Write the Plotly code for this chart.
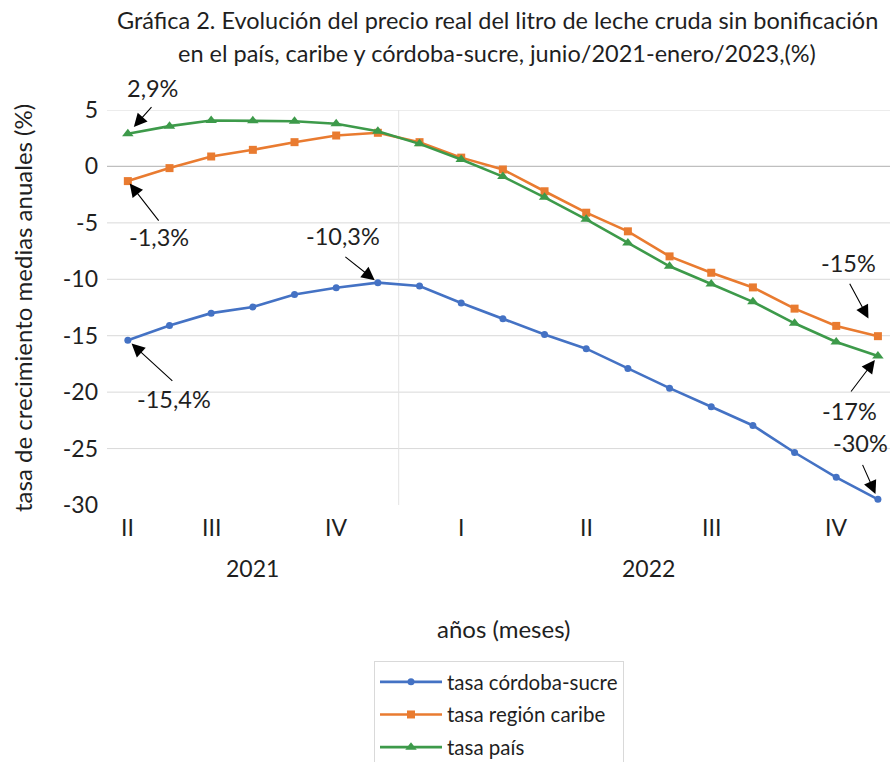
import plotly.graph_objects as go

# ---- data ----
categories = ["jun-21", "jul-21", "ago-21", "sep-21", "oct-21", "nov-21", "dic-21",
              "ene-22", "feb-22", "mar-22", "abr-22", "may-22", "jun-22", "jul-22",
              "ago-22", "sep-22", "oct-22", "nov-22", "dic-22"]
quarters = ["II", "III", "III", "III", "IV", "IV", "IV",
            "I", "I", "I", "II", "II", "II", "III", "III", "III", "IV", "IV", "IV"]
years = ["2021"] * 7 + ["2022"] * 12

cordoba_sucre = [-15.4, -14.1, -13.0, -12.45, -11.35, -10.75, -10.3, -10.6, -12.1, -13.5,
                 -14.9, -16.15, -17.9, -19.65, -21.3, -22.95, -25.35, -27.55, -29.5]
region_caribe = [-1.3, -0.15, 0.88, 1.47, 2.15, 2.74, 2.98, 2.15, 0.78, -0.27,
                 -2.2, -4.1, -5.75, -7.97, -9.42, -10.72, -12.6, -14.13, -15.04]
pais = [2.9, 3.57, 4.07, 4.04, 4.0, 3.78, 3.12, 2.0, 0.62, -0.9,
        -2.74, -4.69, -6.78, -8.85, -10.42, -12.0, -13.9, -15.55, -16.8]

y_ticks = [5, 0, -5, -10, -15, -20, -25, -30]
grid_vals = [5, -5, -10, -15, -20, -25]

series_names = ["tasa córdoba-sucre", "tasa región caribe", "tasa país"]

# callout labels: (series index, point index, text, tail dx, tail dy, text dx, text dy, standoff)
callouts = [
    (2, 0, "2,9%", 25, -28, 25, -46, 9),
    (1, 0, "-1,3%", 32, 41, 31, 56, 3),
    (0, 6, "-10,3%", -34, -27, -35, -47, 4),
    (0, 0, "-15,4%", 46, 42, 46, 59, 5),
    (1, 18, "-15%", -29, -54, -29, -73, 20),
    (2, 18, "-17%", -28, 37, -28, 55, 5),
    (0, 18, "-30%", -16, -36, -17, -56, 6),
]

# ---- style ----
FONT = "Lato"
TXT = "#1f1f1f"
W, H = 890, 762
L, R, T, B = 107, 0, 110, 257
plot_h = H - T - B

def py(pix):
    return (H - B - pix) / plot_h

def px(pix):
    return (pix - L) / (W - L - R)

colors = ["#4472C4", "#E97B30", "#3D9A4A"]
symbols = ["circle", "square", "triangle-up"]
msizes = [7, 8, 10]
all_series = [cordoba_sucre, region_caribe, pais]

fig = go.Figure()
for i, (name, vals) in enumerate(zip(series_names, all_series)):
    fig.add_trace(go.Scatter(
        x=categories, y=vals, mode="lines+markers", name=name,
        line=dict(color=colors[i], width=2.6),
        marker=dict(color=colors[i], symbol=symbols[i], size=msizes[i]),
        legendgroup=name, cliponaxis=False,
    ))

shapes = []
for g in grid_vals:
    shapes.append(dict(type="line", xref="paper", x0=0, x1=1, yref="y", y0=g, y1=g,
                       line=dict(color="#d9d9d9", width=1), layer="below"))
shapes.append(dict(type="line", xref="paper", x0=0, x1=1, yref="y", y0=0, y1=0,
                   line=dict(color="#bfbfbf", width=1.3), layer="below"))
# year separator between groups
first_2022 = years.index("2022")
shapes.append(dict(type="line", xref="x", x0=first_2022 - 0.5, x1=first_2022 - 0.5,
                   yref="paper", y0=0, y1=1, line=dict(color="#e3e3e3", width=1), layer="below"))

def ann_text(x, y, text, size, xref="paper", yref="paper", **kw):
    d = dict(x=x, y=y, xref=xref, yref=yref, text=text, showarrow=False,
             xanchor="center", yanchor="middle",
             font=dict(size=size, color=TXT, family=FONT))
    d.update(kw)
    return d

annotations = []
# quarter labels centered on group of months
groups = []
for i, (q, yv) in enumerate(zip(quarters, years)):
    if groups and groups[-1][0] == q and groups[-1][1] == yv:
        groups[-1][2].append(i)
    else:
        groups.append([q, yv, [i]])
for q, yv, idx in groups:
    annotations.append(ann_text(sum(idx) / len(idx), py(527), q, 23, xref="x"))
for yv in ["2021", "2022"]:
    idx = [i for i, v in enumerate(years) if v == yv]
    annotations.append(ann_text(sum(idx) / len(idx), py(568), yv, 23, xref="x"))

# axis titles
annotations.append(ann_text(px(503), py(628), "años (meses)", 24))
annotations.append(ann_text(px(22), py(308), "tasa de crecimiento medias anuales (%)", 24,
                            textangle=-90))
# title
annotations.append(ann_text(px(497), py(20),
                            "Gráfica 2. Evolución del precio real del litro de leche cruda sin bonificación", 23.5))
annotations.append(ann_text(px(497), py(53),
                            "en el país, caribe y córdoba-sucre, junio/2021-enero/2023,(%)", 23.5))

for s, p, text, tdx, tdy, xdx, xdy, so in callouts:
    xv = categories[p]
    yv = all_series[s][p]
    annotations.append(dict(x=xv, y=yv, xref="x", yref="y", text="", showarrow=True,
                            ax=tdx, ay=tdy, arrowhead=2, arrowsize=2.4, arrowwidth=1.1,
                            arrowcolor="#000000", standoff=so))
    annotations.append(ann_text(xv, yv, text, 23.5, xref="x", yref="y",
                                xshift=xdx, yshift=-xdy))

fig.update_layout(
    width=W, height=H, margin=dict(l=L, r=R, t=T, b=B, autoexpand=False),
    paper_bgcolor="white", plot_bgcolor="white",
    font=dict(family=FONT, color=TXT),
    showlegend=True,
    legend=dict(x=px(374), y=py(661), xanchor="left", yanchor="top",
                bordercolor="#d9d9d9", borderwidth=1, font=dict(size=20.5, color=TXT, family=FONT),
                tracegroupgap=3, itemwidth=62),
    xaxis=dict(type="category", range=[-0.5, 18.29], showticklabels=False, showgrid=False,
               zeroline=False, showline=False, ticks=""),
    yaxis=dict(range=[-30, 5], tickvals=y_ticks, ticktext=[str(v) for v in y_ticks],
               showgrid=False, zeroline=False, showline=False, ticks="",
               ticklabelstandoff=8, tickfont=dict(size=23, color=TXT, family=FONT)),
    shapes=shapes, annotations=annotations,
)

fig.write_html("out.html", config={"displayModeBar": False},
               post_script="document.body.style.margin='0';")
